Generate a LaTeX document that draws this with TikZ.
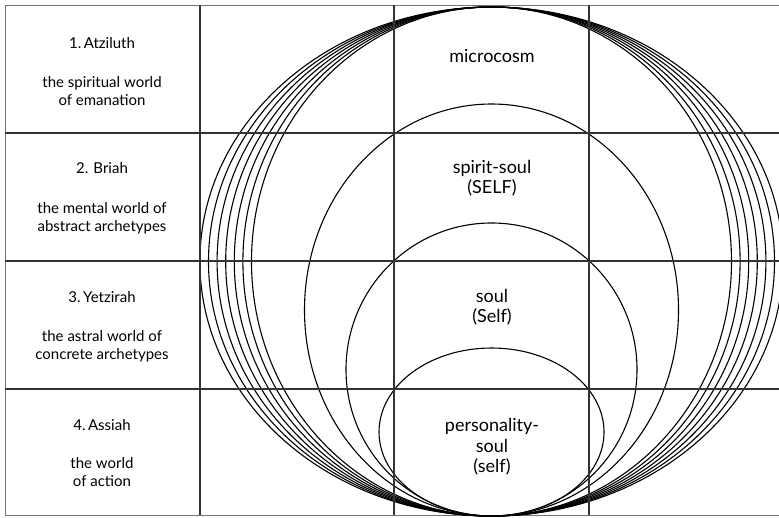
\documentclass[tikz,border=0pt]{standalone}
\usepackage{fontspec}
\setmainfont{Lato}
\begin{document}
\begin{tikzpicture}[x=1pt,y=-1pt,
  gridline/.style={draw=black!80,line width=1.2pt},
  frameline/.style={draw=black!55,line width=1pt},
  orb/.style={draw=black,line width=1.1pt},
  lefttext/.style={align=center,font=\fontsize{15}{18}\selectfont,inner sep=0pt},
  righttext/.style={align=center,font=\fontsize{18}{20.5}\selectfont,inner sep=0pt}]
\useasboundingbox (0,0) rectangle (779,517);
% outer frame
\draw[frameline] (779,5) -- (5,5) -- (5,515) -- (779,515);
% nested large ellipses
\foreach \r in {240,248.6,257.2,265.8,274.4,283,291.6}
  \draw[orb] (491.5,261.5) ellipse [x radius=\r pt, y radius=254.5pt];
% inner ellipses
\draw[orb] (491.5,310) ellipse [x radius=187pt, y radius=206pt];
\draw[orb] (491.5,369.5) ellipse [x radius=145.5pt, y radius=146.5pt];
\draw[orb] (491.5,432) ellipse [x radius=112.5pt, y radius=84pt];
% grid
\foreach \y in {133,261,389} \draw[gridline] (5,\y) -- (779,\y);
\foreach \x in {200,394,589} \draw[gridline] (\x,5) -- (\x,515);
% left column
\node[lefttext] (w1) at (102,43) {1.\,Atziluth};
\node[lefttext] (d1) at (102,91) {the spiritual world\\of emanation};
\node[lefttext] (w2) at (102,168) {2. Briah};
\node[lefttext] (d2) at (102,218) {the mental world of\\abstract archetypes};
\node[lefttext] (w3) at (102,297) {3.\,Yetzirah};
\node[lefttext] (d3) at (102,346) {the astral world of\\concrete archetypes};
\node[lefttext] (w4) at (102,425) {4.\,Assiah};
\node[lefttext] (d4) at (102,472) {the world\\of action};
% right column
\node[righttext] (r1) at (492,56) {microcosm};
\node[righttext] (r2) at (492,178) {spirit-soul\\(SELF)};
\node[righttext] (r3) at (492,307) {soul\\(Self)};
\node[righttext] (r4) at (492,447) {personality-\\soul\\(self)};
\end{tikzpicture}
\end{document}
